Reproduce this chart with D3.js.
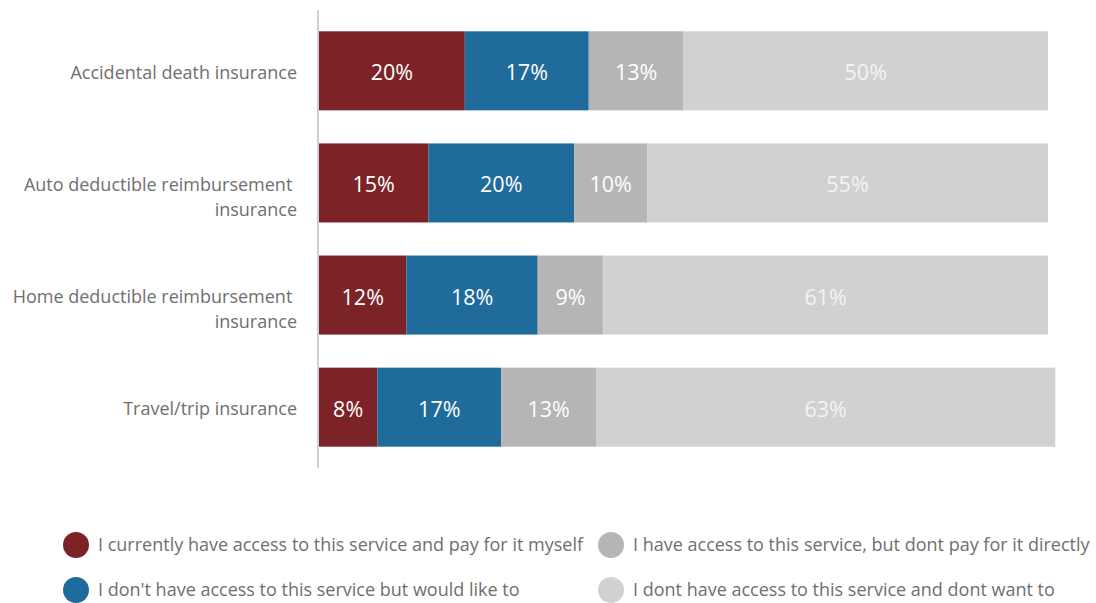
<!DOCTYPE html>
<html>
<head>
<meta charset="utf-8">
<script src="https://cdn.jsdelivr.net/npm/d3@7"></script>
<style>
  html, body { margin: 0; padding: 0; background: #fff; }
  svg { display: block; font-family: "Open Sans", sans-serif; }
</style>
</head>
<body>
<svg id="chart" width="1096" height="603"></svg>
<script>
// Insurance categories (multi-line labels split on "|")
const categories = [
  "Accidental death insurance",
  "Auto deductible reimbursement |insurance",
  "Home deductible reimbursement |insurance",
  "Travel/trip insurance"
];
const seriesNames = [
  "I currently have access to this service and pay for it myself",
  "I don't have access to this service but would like to",
  "I have access to this service, but dont pay for it directly",
  "I dont have access to this service and dont want to"
];
const payMyself   = [20, 15, 12, 8];
const wouldLike   = [17, 20, 18, 17];
const notDirectly = [13, 10, 9, 13];
const dontWant    = [50, 55, 61, 63];

const colors = ["#7b2327", "#1f6b9b", "#b4b5b4", "#d0d1d0"];
const labelColors = ["#ffffff", "#ffffff", "#ffffff", "#f4f4f4"];

const seriesValues = [payMyself, wouldLike, notDirectly, dontWant];
const table = categories.map((c, i) => {
  const row = { category: c };
  seriesNames.forEach((s, k) => row[s] = seriesValues[k][i]);
  return row;
});
const stacked = d3.stack().keys(seriesNames)(table);

const svg = d3.select("#chart");
const x = d3.scaleLinear().domain([0, 100]).range([319, 1048]);
const y = d3.scaleBand().domain(categories).range([10, 468])
  .paddingInner(0.295).paddingOuter(0.19);

// Bars
const layers = svg.append("g").selectAll("g").data(stacked).join("g")
  .attr("fill", (d, i) => colors[i]);
layers.selectAll("rect").data(d => d).join("rect")
  .attr("x", d => x(d[0]))
  .attr("width", d => x(d[1]) - x(d[0]))
  .attr("y", d => y(d.data.category))
  .attr("height", y.bandwidth());

// Value labels
stacked.forEach((layer, i) => {
  svg.append("g").selectAll("text").data(layer).join("text")
    .attr("x", d => (x(d[0]) + x(d[1])) / 2)
    .attr("y", d => y(d.data.category) + y.bandwidth() / 2 + 2)
    .attr("dy", "0.35em")
    .attr("text-anchor", "middle")
    .attr("fill", labelColors[i])
    .attr("font-size", 21.5)
    .text(d => (d[1] - d[0]) + "%");
});

// Category axis line
svg.append("line")
  .attr("x1", 318).attr("x2", 318)
  .attr("y1", 10).attr("y2", 468)
  .attr("stroke", "#d0d0d0").attr("stroke-width", 2);

// Category labels
const catG = svg.append("g").selectAll("text").data(categories).join("text")
  .attr("text-anchor", "end")
  .attr("fill", "#6f6f6f")
  .attr("font-size", 18)
  .style("white-space", "pre")
  .attr("transform", d => `translate(297,${y(d) + y.bandwidth() / 2 + 2})`);
catG.each(function(d) {
  const lines = d.split("|");
  const t = d3.select(this);
  const lh = 25;
  lines.forEach((ln, j) => {
    t.append("tspan").attr("x", 0).attr("y", j * lh).attr("dy", "0.35em").text(ln);
  });
});

// Legend
const legendPos = [[76, 545], [76, 590], [611, 545], [611, 590]];
const leg = svg.append("g").selectAll("g").data(seriesNames).join("g")
  .attr("transform", (d, i) => `translate(${legendPos[i][0]},${legendPos[i][1]})`);
leg.append("circle").attr("r", 13).attr("fill", (d, i) => colors[i]);
leg.append("text")
  .attr("x", 22).attr("dy", "0.35em")
  .attr("fill", "#6f6f6f").attr("font-size", 18)
  .text(d => d);
</script>
</body>
</html>
